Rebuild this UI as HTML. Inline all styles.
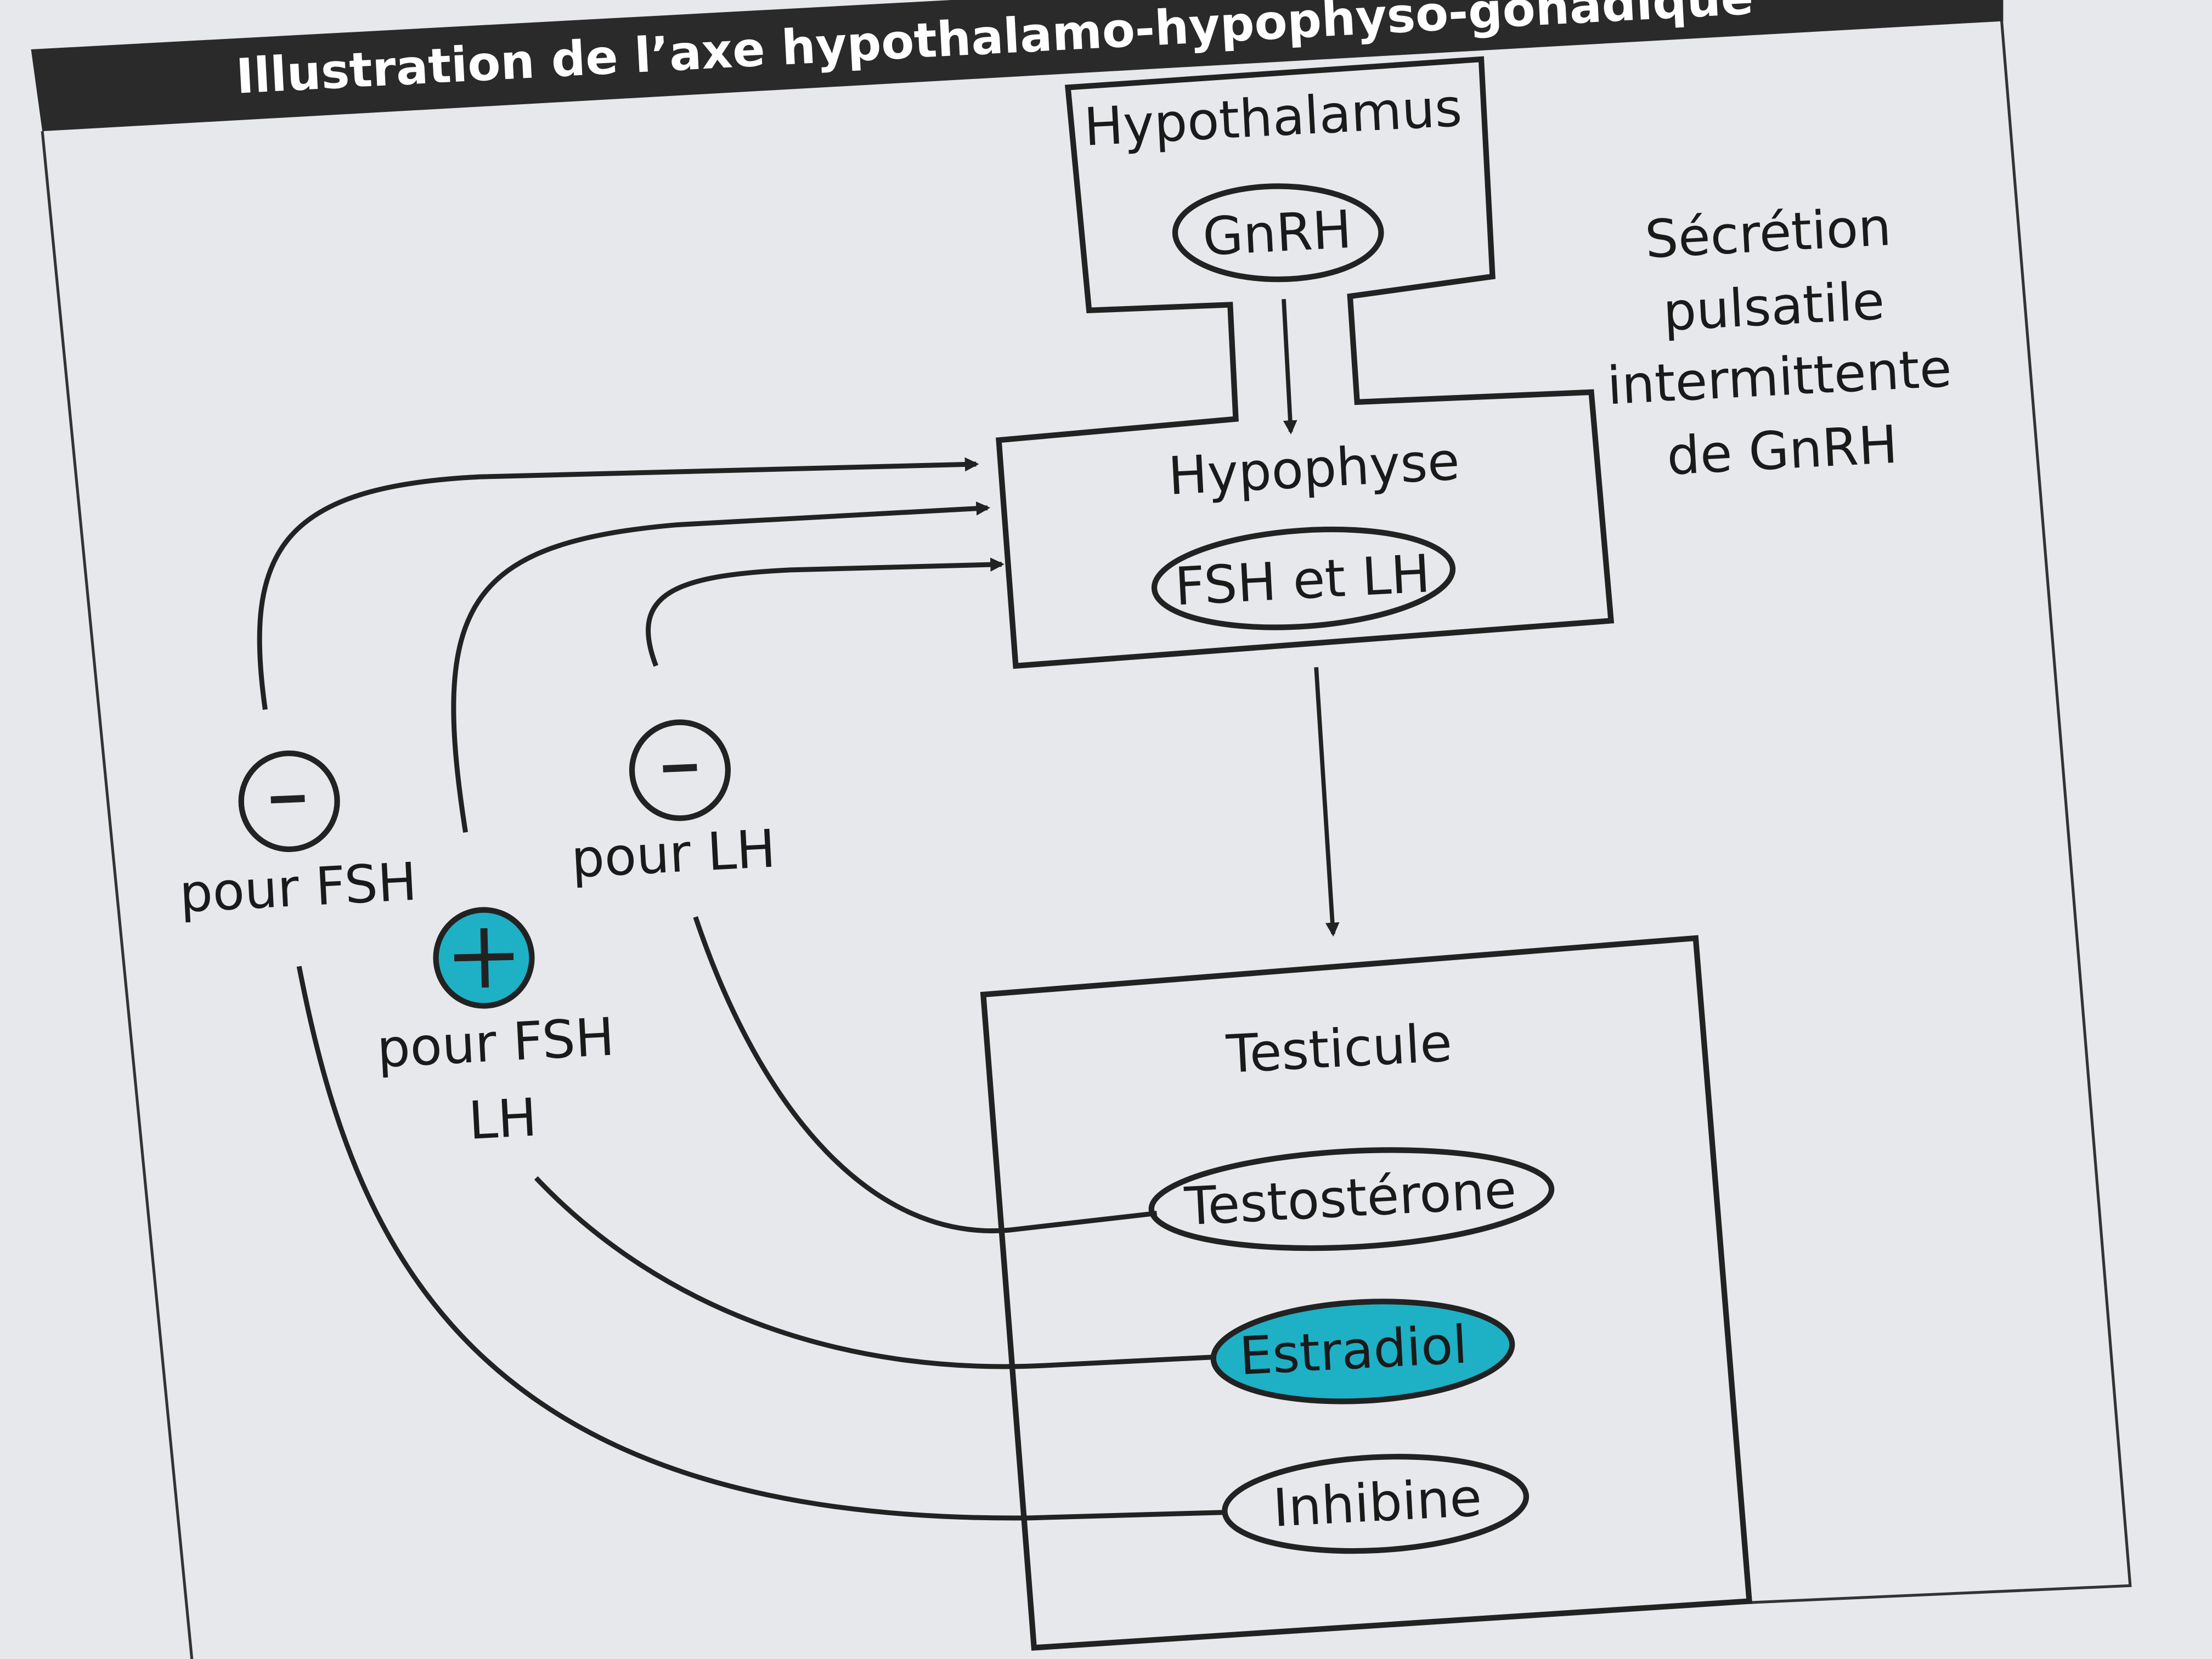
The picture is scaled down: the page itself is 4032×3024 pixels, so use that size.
<!DOCTYPE html>
<html><head><meta charset="utf-8"><style>
html,body{margin:0;padding:0;background:#e3e5ea;}
svg{display:block;}
text{font-family:"DejaVu Sans","Liberation Sans",sans-serif;fill:#1a1a1a;}
</style></head><body>
<svg width="4032" height="3024" viewBox="0 0 1568 1176" xmlns="http://www.w3.org/2000/svg">
<defs><marker id="a" markerWidth="10" markerHeight="10" refX="8" refY="5" orient="auto" markerUnits="userSpaceOnUse"><path d="M0,0 L10,5 L0,10 z" fill="#222"/></marker></defs>
<rect width="1568" height="1176" fill="#e3e5ea"/>
<polygon points="20,0 1568,0 1568,1176 0,1176 0,0" fill="#e6e8ec"/>
<!-- page frame -->
<polyline points="1418,4 1510,1124 1240,1136" fill="none" stroke="#333" stroke-width="2"/>
<line x1="30" y1="93" x2="136" y2="1176" stroke="#333" stroke-width="2"/>
<!-- banner -->
<polygon points="22,35 1420,-40 1420,15 30,93" fill="#2a2a2a"/>
<text x="168" y="66" font-size="34" font-weight="bold" style="fill:#fff" transform="rotate(-3 168 66)">Illustration de l’axe hypothalamo-hypophyso-gonadique</text>
<!-- hypothalamus/hypophyse -->
<polygon points="757,62 1050,42 1058,196 957,210 962,285 1128,278 1142,440 720,472 708,312 876,297 872,216 772,220" fill="none" stroke="#222" stroke-width="4" stroke-linejoin="miter"/>
<!-- testicule -->
<polygon points="697,705 1202,665 1240,1135 733,1168" fill="none" stroke="#222" stroke-width="4"/>
<!-- ellipses -->
<ellipse cx="906" cy="165" rx="73" ry="33" fill="none" stroke="#222" stroke-width="4"/>
<ellipse cx="924" cy="410" rx="106" ry="34" fill="none" stroke="#222" stroke-width="4" transform="rotate(-4 924 410)"/>
<ellipse cx="958" cy="850" rx="142" ry="34" fill="none" stroke="#222" stroke-width="4" transform="rotate(-3 958 850)"/>
<ellipse cx="966" cy="958" rx="106" ry="35" fill="#1eb0c5" stroke="#222" stroke-width="4" transform="rotate(-3 966 958)"/>
<ellipse cx="975" cy="1066" rx="107" ry="33" fill="none" stroke="#222" stroke-width="4" transform="rotate(-3 975 1066)"/>
<!-- arrows -->
<line x1="910" y1="212" x2="915" y2="306" stroke="#222" stroke-width="3" marker-end="url(#a)"/>
<line x1="933" y1="473" x2="945" y2="662" stroke="#222" stroke-width="3" marker-end="url(#a)"/>
<g fill="none" stroke="#222" stroke-width="3.5">
<path d="M188,503 C172,390 200,345 340,338 L692,329" marker-end="url(#a)"/>
<path d="M330,590 C305,430 330,385 480,372 L700,360" marker-end="url(#a)"/>
<path d="M465,472 C445,420 480,408 560,404 L710,400" marker-end="url(#a)"/>
<path d="M493,650 C540,790 620,880 715,872 L820,860"/>
<path d="M380,835 C470,930 600,975 740,968 L860,962"/>
<path d="M212,685 C250,880 330,1080 730,1076 L870,1072"/>
</g>
<!-- circles -->
<circle cx="205" cy="568" r="34" fill="none" stroke="#222" stroke-width="4"/>
<line x1="192" y1="567" x2="216" y2="566" stroke="#222" stroke-width="5"/>
<circle cx="482" cy="546" r="34" fill="none" stroke="#222" stroke-width="4"/>
<line x1="470" y1="545" x2="494" y2="544" stroke="#222" stroke-width="5"/>
<circle cx="343" cy="679" r="34" fill="#1eb0c5" stroke="#222" stroke-width="4"/>
<line x1="322" y1="679" x2="364" y2="678" stroke="#222" stroke-width="5"/>
<line x1="343" y1="658" x2="344" y2="700" stroke="#222" stroke-width="5"/>
<!-- texts -->
<g font-size="37" text-anchor="middle">
<text x="903" y="96" transform="rotate(-3 903 96)">Hypothalamus</text>
<text x="906" y="178" transform="rotate(-3 906 178)">GnRH</text>
<text x="932" y="345" transform="rotate(-3 932 345)">Hypophyse</text>
<text x="924" y="424" transform="rotate(-3 924 424)">FSH et LH</text>
<text x="950" y="756" transform="rotate(-3 950 756)">Testicule</text>
<text x="958" y="862" transform="rotate(-3 958 862)">Testostérone</text>
<text x="960" y="970" transform="rotate(-3 960 970)">Estradiol</text>
<text x="977" y="1078" transform="rotate(-3 977 1078)">Inhibine</text>
<text x="212" y="642" transform="rotate(-3 212 642)">pour FSH</text>
<text x="478" y="618" transform="rotate(-3 478 618)">pour LH</text>
<text x="352" y="752" transform="rotate(-3 352 752)">pour FSH</text>
<text x="357" y="806" transform="rotate(-3 357 806)">LH</text>
<text x="1254" y="178" transform="rotate(-3 1254 178)">Sécrétion</text>
<text x="1258" y="230" transform="rotate(-3 1258 230)">pulsatile</text>
<text x="1262" y="280" transform="rotate(-3 1262 280)">intermittente</text>
<text x="1264" y="332" transform="rotate(-3 1264 332)">de GnRH</text>
</g>
</svg>
</body></html>
